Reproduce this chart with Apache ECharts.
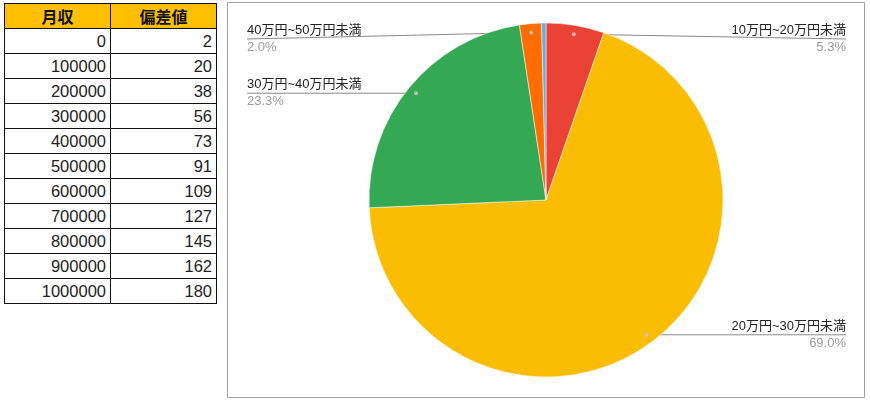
<!DOCTYPE html>
<html>
<head>
<meta charset="utf-8">
<script src="https://cdn.jsdelivr.net/npm/echarts@6/dist/echarts.min.js"></script>
<style>
  html, body { margin: 0; padding: 0; background: #fff; width: 870px; height: 402px; overflow: hidden; }
  body { font-family: Arial, "Liberation Sans", "Noto Sans CJK JP", sans-serif; position: relative; }
  #tbl { position: absolute; left: 4px; top: 3px; border-collapse: collapse; }
  #tbl td, #tbl th { border: 1px solid #111; width: 106px; height: 25px; padding: 0 4px 0 0; box-sizing: border-box; }
  #tbl th { background: #FDBF00; font-family: "Noto Sans CJK JP", sans-serif; font-weight: bold; font-size: 16px; text-align: center; padding: 0; color: #111; line-height: 20px; }
  #tbl td { text-align: right; font-size: 16.5px; color: #222; line-height: 20px; }
  #box { position: absolute; left: 227px; top: 2px; width: 638px; height: 396px; border: 1px solid #a0a0a0; box-sizing: border-box; }
  #chart { position: absolute; left: 0; top: 0; width: 636px; height: 394px; }
</style>
</head>
<body>
<table id="tbl"><thead><tr id="hdr"></tr></thead><tbody id="tb"></tbody></table>
<div id="box"><div id="chart"></div></div>
<script>
// ---- data ----
const tableHeaders = ['月収', '偏差値'];
const incomes = [0, 100000, 200000, 300000, 400000, 500000, 600000, 700000, 800000, 900000, 1000000];
const deviations = [2, 20, 38, 56, 73, 91, 109, 127, 145, 162, 180];
const sliceNames = ['10万円~20万円未満', '20万円~30万円未満', '30万円~40万円未満', '40万円~50万円未満', '50万円以上'];
const sliceValues = [5.3, 69.0, 23.3, 2.0, 0.4];
const sliceColors = ['#EA4335', '#FBBC04', '#34A853', '#FF6D01', '#6FA8DC'];
const labelShown = [true, true, true, true, false];

// ---- table ----
const hdr = document.getElementById('hdr');
tableHeaders.forEach(h => { const th = document.createElement('th'); th.textContent = h; hdr.appendChild(th); });
const tb = document.getElementById('tb');
incomes.forEach((v, i) => {
  const tr = document.createElement('tr');
  [v, deviations[i]].forEach(x => { const td = document.createElement('td'); td.textContent = x; tr.appendChild(td); });
  tb.appendChild(tr);
});

// ---- layout constants ----
const CX = 318, CY = 197, PIE_R = 177, DOT_FRAC = 0.95;
const LEFT_EDGE = 19, RIGHT_EDGE = 618, TOP_MIN = 36;

const total = sliceValues.reduce((a, b) => a + b, 0);
const mids = [];
let cum = 0;
sliceValues.forEach(v => { mids.push(cum + v / 2); cum += v; });
const midRad = mids.map(m => m / total * Math.PI * 2);

const richLeft = {
  n: { fontSize: 13, color: '#222', lineHeight: 17, align: 'left', fontFamily: 'Arial, "Noto Sans CJK JP", sans-serif' },
  p: { fontSize: 13, color: '#9a9a9a', lineHeight: 17, align: 'left', fontFamily: 'Arial, sans-serif' }
};
const richRight = {
  n: Object.assign({}, richLeft.n, { align: 'right' }),
  p: Object.assign({}, richLeft.p, { align: 'right' })
};

const pieData = sliceNames.map((n, i) => {
  const right = Math.sin(midRad[i]) > 0;
  return {
    name: n, value: sliceValues[i],
    itemStyle: { color: sliceColors[i] },
    label: { show: labelShown[i], rich: right ? richRight : richLeft, align: right ? 'right' : 'left' },
    labelLine: { show: labelShown[i] }
  };
});

const dotData = [];
sliceValues.forEach((v, i) => { if (labelShown[i]) dotData.push([DOT_FRAC, mids[i]]); });

const chart = echarts.init(document.getElementById('chart'));
chart.setOption({
  animation: false,
  polar: { center: [CX, CY], radius: PIE_R },
  angleAxis: { type: 'value', min: 0, max: total, startAngle: 90, clockwise: true, show: false,
    axisLine: { show: false }, axisLabel: { show: false }, splitLine: { show: false }, axisTick: { show: false } },
  radiusAxis: { type: 'value', min: 0, max: 1, show: false,
    axisLine: { show: false }, axisLabel: { show: false }, splitLine: { show: false }, axisTick: { show: false } },
  series: [
    {
      type: 'pie',
      center: [CX, CY],
      radius: PIE_R,
      startAngle: 90,
      clockwise: true,
      itemStyle: { borderColor: '#fff', borderWidth: 0.5 },
      label: {
        show: true,
        position: 'outside',
        formatter: p => '{n|' + p.name + '}\n{p|' + p.percent.toFixed(1) + '%}'
      },
      labelLine: { show: true, lineStyle: { color: '#8a8a8a', width: 1 } },
      labelLayout: function (params) {
        const i = params.dataIndex;
        const a = midRad[i];
        const dx = CX + PIE_R * DOT_FRAC * Math.sin(a);
        const dy = CY - PIE_R * DOT_FRAC * Math.cos(a);
        const right = Math.sin(a) > 0;
        const ly = Math.max(dy, TOP_MIN);
        const ex = right ? RIGHT_EDGE : LEFT_EDGE;
        return {
          x: ex, y: ly,
          align: right ? 'right' : 'left',
          verticalAlign: 'middle',
          labelLinePoints: [[dx, dy], [ex, ly]]
        };
      },
      emphasis: { disabled: true },
      data: pieData,
      z: 1
    },
    {
      type: 'scatter',
      coordinateSystem: 'polar',
      symbolSize: 4,
      itemStyle: { color: '#c8c8c8', opacity: 0.85 },
      data: dotData,
      z: 5,
      silent: true
    }
  ]
});
</script>
</body>
</html>
